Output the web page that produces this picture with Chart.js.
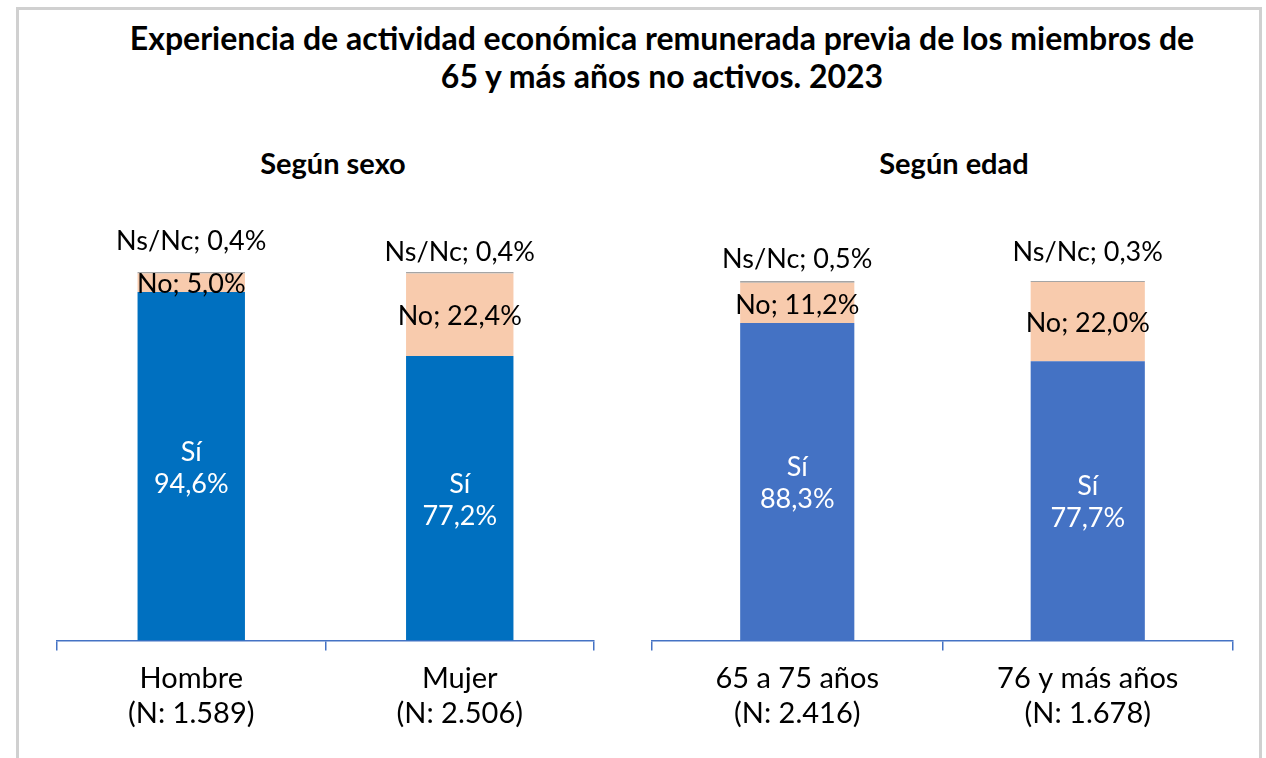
<!DOCTYPE html>
<html>
<head>
<meta charset="utf-8">
<script src="https://cdn.jsdelivr.net/npm/chart.js@4.4.0/dist/chart.umd.min.js"></script>
<style>
  body { margin: 0; background: #fff; width: 1266px; height: 758px; overflow: hidden; position: relative; font-family: Lato, "Noto Sans", sans-serif; }
  #marco { position: absolute; left: 16px; top: 7px; width: 1240px; height: 800px; border: 3px solid #d0d0d0; border-bottom: none; }
  #titulo { position: absolute; left: 100px; top: 19px; width: 1124px; text-align: center; font-weight: bold; font-size: 32px; line-height: 38px; color: #000; }
  .sub { position: absolute; top: 148px; width: 260px; text-align: center; font-weight: bold; font-size: 29px; line-height: 30px; color: #000; }
  canvas { position: absolute; }
</style>
</head>
<body>
<div id="marco"></div>
<div id="titulo">Experiencia de actividad económica remunerada previa de los miembros de<br>65 y más años no activos. 2023</div>
<div class="sub" style="left:203px">Según sexo</div>
<div class="sub" style="left:824px">Según edad</div>
<canvas id="chartSexo" style="left:40px; top:130px; width:580px; height:625px"></canvas>
<canvas id="chartEdad" style="left:630px; top:130px; width:620px; height:625px"></canvas>
<script>
// Según sexo
var sexoLabels = [["Hombre", "(N: 1.589)"], ["Mujer", "(N: 2.506)"]];
var sexoSi = [94.6, 77.2];
var sexoNo = [5.0, 22.4];
var sexoNs = [0.4, 0.4];

// Según edad
var edadLabels = [["65 a 75 años", "(N: 2.416)"], ["76 y más años", "(N: 1.678)"]];
var edadSi = [88.3, 77.7];
var edadNo = [11.2, 22.0];
var edadNs = [0.5, 0.3];

function fmt(v) {
  return v.toFixed(1).replace(".", ",") + "%";
}

// data labels drawn on top of the bars
var etiquetas = {
  id: "etiquetas",
  afterDatasetsDraw: function(chart, args, opts) {
    var ctx = chart.ctx;
    var si = chart.data.datasets[0].data;
    var no = chart.data.datasets[1].data;
    var ns = chart.data.datasets[2].data;
    var siMeta = chart.getDatasetMeta(0);
    var noMeta = chart.getDatasetMeta(1);
    var nsMeta = chart.getDatasetMeta(2);
    ctx.save();
    ctx.font = "27px Lato";
    ctx.textAlign = "center";
    ctx.textBaseline = "middle";
    for (var i = 0; i < si.length; i++) {
      var b = siMeta.data[i];
      var mid = (b.y + b.base) / 2;
      ctx.fillStyle = "#ffffff";
      ctx.fillText("Sí", b.x, mid - 14);
      ctx.fillText(fmt(si[i]), b.x, mid + 18);

      var n = noMeta.data[i];
      ctx.fillStyle = "#000000";
      ctx.fillText("No; " + fmt(no[i]), n.x, (n.y + n.base) / 2 + 2);

      var s = nsMeta.data[i];
      ctx.fillText("Ns/Nc; " + fmt(ns[i]), s.x, s.y - opts.nsOffset[i]);
    }
    ctx.restore();
  }
};

function makeChart(id, labels, si, no, ns, siColor, barPct, pad, nsOffset) {
  return new Chart(document.getElementById(id), {
    type: "bar",
    data: {
      labels: labels,
      datasets: [
        { label: "Sí", data: si, backgroundColor: siColor },
        { label: "No", data: no, backgroundColor: "#F8CBAD" },
        { label: "Ns/Nc", data: ns, backgroundColor: "#A5A5A5" }
      ]
    },
    options: {
      responsive: false,
      animation: false,
      barPercentage: barPct,
      categoryPercentage: 1,
      layout: { padding: pad },
      plugins: {
        legend: { display: false },
        tooltip: { enabled: false },
        etiquetas: { nsOffset: nsOffset }
      },
      scales: {
        x: {
          stacked: true,
          grid: { offset: true, drawOnChartArea: false, drawTicks: true, tickLength: 10, color: "#4472C4", lineWidth: 1.5 },
          border: { color: "#4472C4", width: 1.5 },
          ticks: { color: "#000", maxRotation: 0, padding: 11, font: { family: "Lato", size: 29, lineHeight: 1.2 } }
        },
        y: {
          stacked: true,
          display: false,
          min: 0,
          max: 100
        }
      }
    },
    plugins: [etiquetas]
  });
}

var chart1 = makeChart("chartSexo", sexoLabels, sexoSi, sexoNo, sexoNs, "#0070C0", 0.4,
  { left: 17, right: 26, top: 142, bottom: 13 }, [31, 20]);
var chart2 = makeChart("chartEdad", edadLabels, edadSi, edadNo, edadNs, "#4472C4", 0.393,
  { left: 22, right: 17, top: 151, bottom: 13 }, [22, 29]);
</script>
</body>
</html>
